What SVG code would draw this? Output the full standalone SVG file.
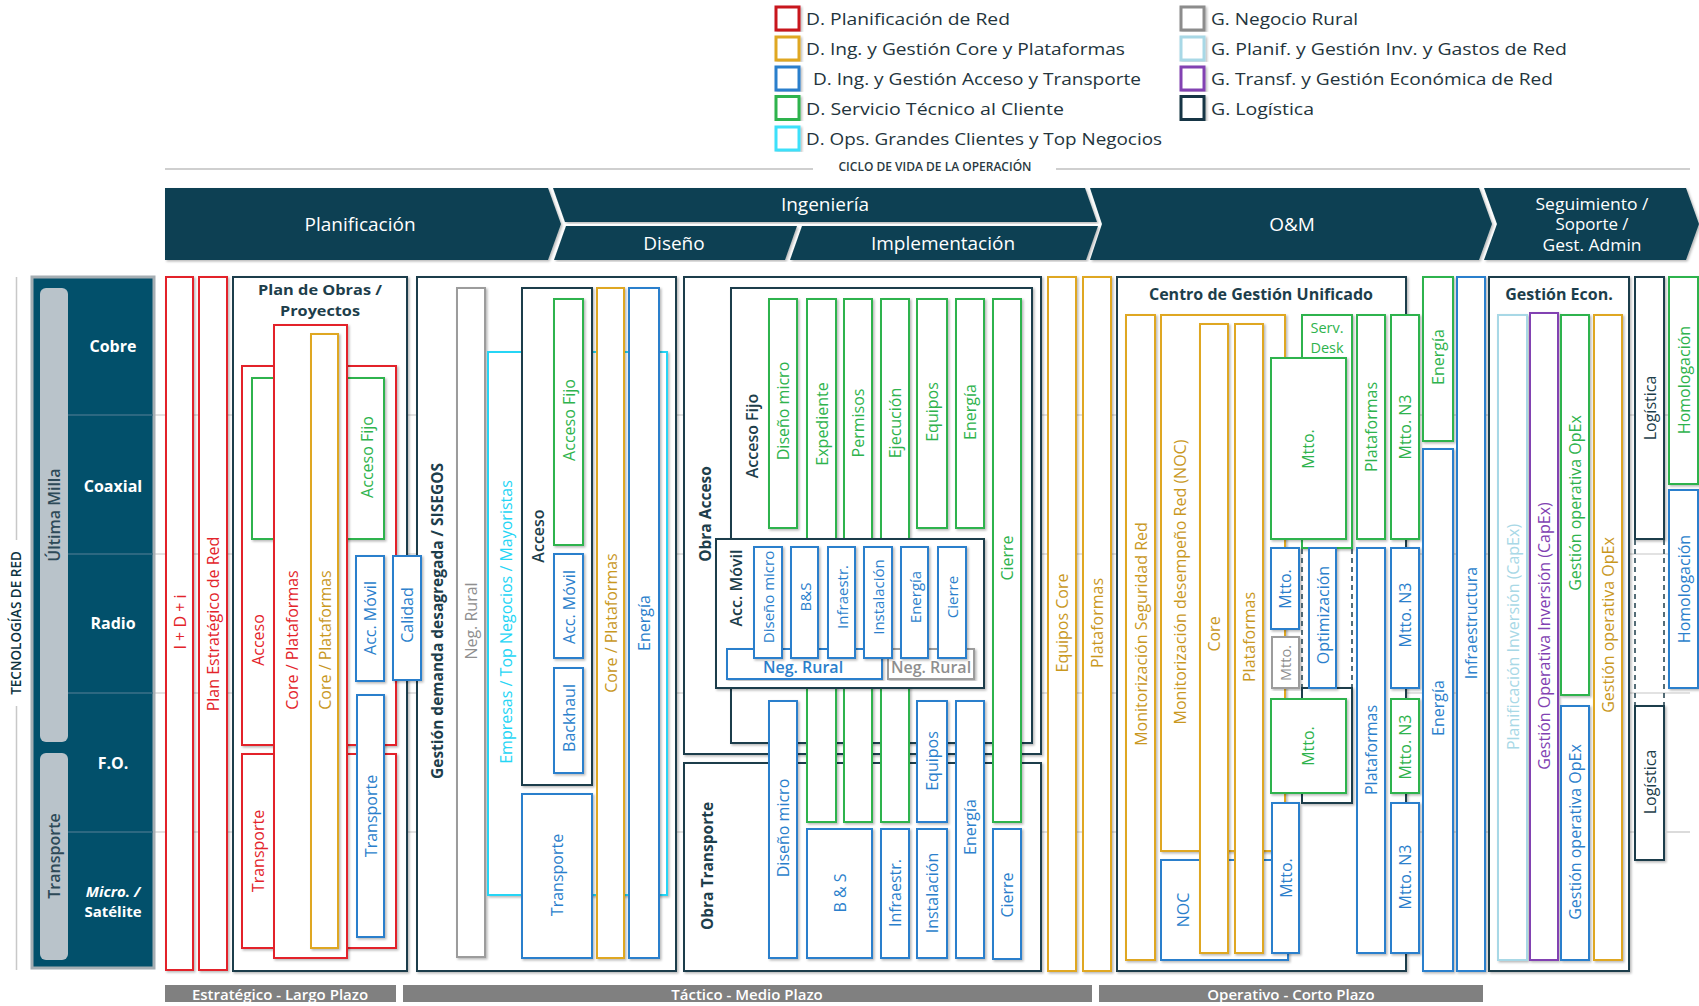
<svg xmlns="http://www.w3.org/2000/svg" width="1699" height="1006" viewBox="0 0 1699 1006">
<defs>
<filter id="sh" x="-20%" y="-5%" width="140%" height="110%"><feDropShadow dx="1.5" dy="1.5" stdDeviation="1" flood-color="#000" flood-opacity="0.28"/></filter>
<style>
text{font-family:'Open Sans','DejaVu Sans',sans-serif}
.b{fill:#fff;stroke-width:2;filter:url(#sh)}
.r{stroke:#e3242b}.o{stroke:#dfa722}.u{stroke:#2b7fcc}.n{stroke:#2eb34d}.c{stroke:#25d5f5}.y{stroke:#9c9c9c}.k{stroke:#1d3e4b}.l{stroke:#a8d8e6}.p{stroke:#8242b2}
.t{font-size:16px;text-anchor:middle;dominant-baseline:central}
.tr{fill:#e3242b}.to{fill:#c9981f}.tu{fill:#2b7fcc}.tn{fill:#2eb34d}.tc{fill:#25d5f5}.ty{fill:#8f8f8f}.tk{fill:#1d3e4b}.tl{fill:#a8d8e6}.tp{fill:#8242b2}
.bd{font-weight:700;font-size:15.5px}
.ti{font-weight:700;font-size:16px}
.sb{font-weight:600}
.s15{font-size:15px}.s14{font-size:14.5px}
.hd{fill:#0c4152;filter:url(#sh)}
.ht{fill:#fff;font-size:19px;text-anchor:middle;dominant-baseline:central}
.hs{fill:#fff;font-size:15.5px;text-anchor:middle;dominant-baseline:central}
.lg{font-size:17px;fill:#23343c;dominant-baseline:central}
.sq{fill:#fff;stroke-width:3;filter:url(#sh)}
.grid{stroke:#d8d8d8;stroke-width:1.5}
.dash{stroke:#1d3e4b;stroke-width:1.5;stroke-dasharray:5 4;fill:none}
.pl{fill:#fff;font-size:16px;font-weight:700;text-anchor:middle;dominant-baseline:central}
.bar{fill:#808080}
.bt{fill:#fff;font-size:15px;font-weight:600;text-anchor:middle;dominant-baseline:central}
</style>
</defs>
<rect width="1699" height="1006" fill="#fff"/>

<g id="legend">
<rect class="sq" x="776" y="7" width="23" height="23" stroke="#c8141e"/>
<rect class="sq" x="776" y="37" width="23" height="23" stroke="#dfa722"/>
<rect class="sq" x="776" y="67" width="23" height="23" stroke="#2b7fcc"/>
<rect class="sq" x="776" y="96.5" width="23" height="23" stroke="#2eb34d"/>
<rect class="sq" x="776" y="127" width="23" height="23" stroke="#3ce0fa"/>
<rect class="sq" x="1181" y="7" width="23" height="23" stroke="#8c8c8c"/>
<rect class="sq" x="1181" y="37" width="23" height="23" stroke="#a8d8e6"/>
<rect class="sq" x="1181" y="67" width="23" height="23" stroke="#8242b2"/>
<rect class="sq" x="1181" y="96.5" width="23" height="23" stroke="#163644"/>
<text class="lg" x="806" y="18.5" textLength="204" lengthAdjust="spacingAndGlyphs">D. Planificación de Red</text>
<text class="lg" x="806" y="48.5" textLength="319" lengthAdjust="spacingAndGlyphs">D. Ing. y Gestión Core y Plataformas</text>
<text class="lg" x="813" y="78.5" textLength="328" lengthAdjust="spacingAndGlyphs">D. Ing. y Gestión Acceso y Transporte</text>
<text class="lg" x="806" y="108" textLength="258" lengthAdjust="spacingAndGlyphs">D. Servicio Técnico al Cliente</text>
<text class="lg" x="806" y="138.5" textLength="356" lengthAdjust="spacingAndGlyphs">D. Ops. Grandes Clientes y Top Negocios</text>
<text class="lg" x="1211" y="18.5" textLength="147" lengthAdjust="spacingAndGlyphs">G. Negocio Rural</text>
<text class="lg" x="1211" y="48.5" textLength="356" lengthAdjust="spacingAndGlyphs">G. Planif. y Gestión Inv. y Gastos de Red</text>
<text class="lg" x="1211" y="78.5" textLength="342" lengthAdjust="spacingAndGlyphs">G. Transf. y Gestión Económica de Red</text>
<text class="lg" x="1211" y="108" textLength="103" lengthAdjust="spacingAndGlyphs">G. Logística</text>
</g>

<g id="ciclo">
<line x1="165" y1="169" x2="813" y2="169" stroke="#cfcfcf" stroke-width="2"/>
<line x1="1056" y1="169" x2="1690" y2="169" stroke="#cfcfcf" stroke-width="2"/>
<text x="935" y="166" font-size="12" font-weight="600" fill="#2a3a42" text-anchor="middle" dominant-baseline="central">CICLO DE VIDA DE LA OPERACIÓN</text>
</g>

<g id="header">
<g id="h-planificacion"><path class="hd" d="M165,188H548L561,224L548,260H165Z"/><text class="ht" x="360" y="224">Planificación</text></g>
<g id="h-ingenieria"><path class="hd" d="M553,188H1085L1097,222H565Z"/><text class="ht" x="825" y="204">Ingeniería</text></g>
<g id="h-diseno"><path class="hd" d="M566,226H797L785,260H554Z"/><text class="ht" x="674" y="243">Diseño</text></g>
<g id="h-implementacion"><path class="hd" d="M802,226H1098L1086,260H790Z"/><text class="ht" x="943" y="243">Implementación</text></g>
<g id="h-om"><path class="hd" d="M1090,188H1479L1492,224L1479,260H1090L1102,224Z"/><text class="ht" x="1292" y="224">O&amp;M</text></g>
<g id="h-seguimiento"><path class="hd" d="M1484,188H1686L1699,224L1686,260H1484L1497,224Z"/>
<text class="hs" x="1592" y="203.5" textLength="113" lengthAdjust="spacingAndGlyphs">Seguimiento /</text><text class="hs" x="1592" y="224" textLength="73" lengthAdjust="spacingAndGlyphs">Soporte /</text><text class="hs" x="1592" y="244.5" textLength="99" lengthAdjust="spacingAndGlyphs">Gest.  Admin</text></g>
</g>

<g id="grid-lines">
<line class="grid" x1="154" y1="415" x2="1690" y2="415"/>
<line class="grid" x1="154" y1="554" x2="1690" y2="554"/>
<line class="grid" x1="154" y1="693" x2="1690" y2="693"/>
<line class="grid" x1="154" y1="832" x2="1690" y2="832"/>
<line x1="16.5" y1="277" x2="16.5" y2="540" stroke="#c8c8c8" stroke-width="1.5"/>
<line x1="16.5" y1="706" x2="16.5" y2="970" stroke="#c8c8c8" stroke-width="1.5"/>
</g>

<g id="tech-panel">
<text class="t" style="font-size:13.5px;font-weight:600" fill="#0d3340" transform="translate(16,623) rotate(-90)">TECNOLOGÍAS DE RED</text>
<rect x="32" y="277" width="122" height="691" fill="#02506b" stroke="#a5aeb3" stroke-width="3"/>
<g stroke="#3d7188" stroke-width="1.5">
<line x1="68" y1="415" x2="153" y2="415"/><line x1="68" y1="554" x2="153" y2="554"/><line x1="68" y1="693" x2="153" y2="693"/><line x1="68" y1="832" x2="153" y2="832"/>
</g>
<rect x="40" y="288" width="28" height="454" rx="6" fill="#b9c3ca"/>
<rect x="40" y="753" width="28" height="207" rx="6" fill="#b9c3ca"/>
<text class="t sb" fill="#2e4a58" transform="translate(54,515) rotate(-90)">Última Milla</text>
<text class="t sb" fill="#2e4a58" transform="translate(54,856) rotate(-90)">Transporte</text>
<text class="pl" x="113" y="346">Cobre</text>
<text class="pl" x="113" y="486">Coaxial</text>
<text class="pl" x="113" y="623">Radio</text>
<text class="pl" x="113" y="763">F.O.</text>
<text class="pl" x="113" y="891" style="font-size:15px;font-style:italic">Micro. /</text>
<text class="pl" x="113" y="911" style="font-size:15px">Satélite</text>
</g>

<g id="idi"><rect class="b r" x="166" y="277" width="27" height="693"/><text class="t tr" transform="translate(180,622) rotate(-90)">I + D + i</text></g>
<g id="plan-estrategico"><rect class="b r" x="199" y="277" width="28" height="693"/><text class="t tr" transform="translate(213,624) rotate(-90)">Plan Estratégico de Red</text></g>

<g id="plan-obras">
<rect class="b k" x="233" y="277" width="174" height="694"/>
<text class="t tk" style="font-size:15px;font-weight:700" x="320" y="289" textLength="124" lengthAdjust="spacingAndGlyphs">Plan de Obras /</text>
<text class="t tk" style="font-size:15px;font-weight:700" x="320" y="309.5" textLength="80" lengthAdjust="spacingAndGlyphs">Proyectos</text>
<g id="po-acceso"><rect class="b r" x="242" y="366" width="154" height="379"/><text class="t tr" transform="translate(258,640) rotate(-90)">Acceso</text></g>
<g id="po-transporte"><rect class="b r" x="242" y="754" width="154" height="194"/><text class="t tr" transform="translate(258,851) rotate(-90)">Transporte</text></g>
<g id="po-acceso-fijo"><rect class="b n" x="252" y="378" width="132" height="161"/><text class="t tn" transform="translate(367,457) rotate(-90)">Acceso Fijo</text></g>
<g id="po-core-red"><rect class="b r" x="274" y="325" width="73" height="633"/><text class="t tr" transform="translate(292,640) rotate(-90)">Core / Plataformas</text></g>
<g id="po-core-gold"><rect class="b o" x="311" y="334" width="27" height="614"/><text class="t to" transform="translate(324.5,640) rotate(-90)">Core / Plataformas</text></g>
<g id="po-acc-movil"><rect class="b u" x="356" y="556" width="28" height="125"/><text class="t tu" transform="translate(370,618) rotate(-90)">Acc. Móvil</text></g>
<g id="po-transporte-blue"><rect class="b u" x="357" y="695" width="27" height="242"/><text class="t tu" transform="translate(370.5,816) rotate(-90)">Transporte</text></g>
</g>

<g id="sisegos">
<rect class="b k" x="417" y="277" width="259" height="694"/>
<text class="t tk bd" transform="translate(437,621) rotate(-90)">Gestión demanda desagregada / SISEGOS</text>
<g id="sg-neg-rural"><rect class="b y" x="457" y="288" width="28" height="669"/><text class="t ty" transform="translate(471,621) rotate(-90)">Neg. Rural</text></g>
<g id="sg-empresas"><rect class="b c" x="488" y="352" width="179" height="543"/><text class="t tc" transform="translate(506,622) rotate(-90)">Empresas / Top Negocios / Mayoristas</text></g>
<g id="sg-acceso"><rect class="b k" x="522" y="288" width="70" height="497"/><text class="t tk sb" transform="translate(538,536) rotate(-90)">Acceso</text></g>
<g id="sg-acceso-fijo"><rect class="b n" x="554" y="299" width="29" height="246"/><text class="t tn" transform="translate(569,420) rotate(-90)">Acceso Fijo</text></g>
<g id="sg-acc-movil"><rect class="b u" x="554" y="554" width="29" height="104"/><text class="t tu" transform="translate(569,607) rotate(-90)">Acc. Móvil</text></g>
<g id="sg-backhaul"><rect class="b u" x="554" y="668" width="29" height="105"/><text class="t tu" transform="translate(569,718) rotate(-90)">Backhaul</text></g>
<g id="sg-transporte"><rect class="b u" x="522" y="794" width="70" height="164"/><text class="t tu" transform="translate(557,875) rotate(-90)">Transporte</text></g>
<g id="sg-core"><rect class="b o" x="597" y="288" width="27" height="670"/><text class="t to" transform="translate(611,623) rotate(-90)">Core / Plataformas</text></g>
<g id="sg-energia"><rect class="b u" x="629" y="288" width="30" height="670"/><text class="t tu" transform="translate(644,623) rotate(-90)">Energía</text></g>
</g>

<g id="calidad"><rect class="b u" x="393" y="556" width="28" height="124"/><text class="t tu" transform="translate(407,615) rotate(-90)">Calidad</text></g>

<g id="obra-acceso">
<rect class="b k" x="684" y="277" width="357" height="477"/>
<text class="t tk bd" transform="translate(705,514) rotate(-90)">Obra Acceso</text>
</g>
<g id="obra-transporte">
<rect class="b k" x="684" y="763" width="357" height="208"/>
<text class="t tk bd" transform="translate(707,866) rotate(-90)">Obra Transporte</text>
</g>
<g id="oa-acceso-fijo">
<rect class="b k" x="731" y="288" width="301" height="455"/>
<text class="t tk sb" transform="translate(752,436) rotate(-90)">Acceso Fijo</text>
</g>
<g id="af-diseno"><rect class="b n" x="769" y="299" width="28" height="229"/><text class="t tn" transform="translate(783,411) rotate(-90)">Diseño micro</text></g>
<g id="af-expediente"><rect class="b n" x="807" y="299" width="29" height="523"/><text class="t tn" transform="translate(821.5,424) rotate(-90)">Expediente</text></g>
<g id="af-permisos"><rect class="b n" x="844" y="299" width="28" height="523"/><text class="t tn" transform="translate(858,423) rotate(-90)">Permisos</text></g>
<g id="af-ejecucion"><rect class="b n" x="881" y="299" width="28" height="523"/><text class="t tn" transform="translate(895,423) rotate(-90)">Ejecución</text></g>
<g id="af-equipos"><rect class="b n" x="917" y="299" width="30" height="229"/><text class="t tn" transform="translate(932,412) rotate(-90)">Equipos</text></g>
<g id="af-energia"><rect class="b n" x="956" y="299" width="28" height="229"/><text class="t tn" transform="translate(970,412) rotate(-90)">Energía</text></g>
<g id="af-cierre"><rect class="b n" x="993" y="299" width="28" height="523"/><text class="t tn" transform="translate(1007,558) rotate(-90)">Cierre</text></g>

<g id="ot-diseno"><rect class="b u" x="769" y="701" width="28" height="257"/><text class="t tu" transform="translate(783,828) rotate(-90)">Diseño micro</text></g>
<g id="ot-equipos"><rect class="b u" x="917" y="701" width="30" height="121"/><text class="t tu" transform="translate(932,761) rotate(-90)">Equipos</text></g>
<g id="ot-energia"><rect class="b u" x="956" y="701" width="28" height="257"/><text class="t tu" transform="translate(970,827) rotate(-90)">Energía</text></g>
<g id="ot-bs"><rect class="b u" x="807" y="829" width="65" height="129"/><text class="t tu" transform="translate(839.5,893) rotate(-90)">B &amp; S</text></g>
<g id="ot-infraestr"><rect class="b u" x="881" y="829" width="28" height="129"/><text class="t tu" transform="translate(895,893) rotate(-90)">Infraestr.</text></g>
<g id="ot-instalacion"><rect class="b u" x="917" y="829" width="30" height="129"/><text class="t tu" transform="translate(932,893) rotate(-90)">Instalación</text></g>
<g id="ot-cierre"><rect class="b u" x="993" y="829" width="28" height="130"/><text class="t tu" transform="translate(1007,895) rotate(-90)">Cierre</text></g>

<g id="oa-acc-movil">
<rect class="b k" x="716" y="539" width="268" height="149"/>
<text class="t tk sb" transform="translate(736,588) rotate(-90)">Acc. Móvil</text>
<g id="am-neg-rural-blue"><rect class="b u" x="727" y="649" width="155" height="30"/><text class="t tu sb" x="803" y="667">Neg. Rural</text></g>
<g id="am-neg-rural-gray"><rect class="b y" x="888" y="649" width="86" height="30"/><text class="t ty sb" x="931" y="667">Neg. Rural</text></g>
<g id="am-diseno"><rect class="b u" x="754" y="547" width="28" height="111"/><text class="t tu s15" transform="translate(768,597) rotate(-90)">Diseño micro</text></g>
<g id="am-bs"><rect class="b u" x="791" y="547" width="27" height="111"/><text class="t tu s15" transform="translate(804.5,597) rotate(-90)">B&amp;S</text></g>
<g id="am-infraestr"><rect class="b u" x="828" y="547" width="27" height="111"/><text class="t tu s15" transform="translate(841.5,597) rotate(-90)">Infraestr.</text></g>
<g id="am-instalacion"><rect class="b u" x="864" y="547" width="28" height="111"/><text class="t tu s15" transform="translate(878,597) rotate(-90)">Instalación</text></g>
<g id="am-energia"><rect class="b u" x="901" y="547" width="27" height="111"/><text class="t tu s15" transform="translate(914.5,597) rotate(-90)">Energía</text></g>
<g id="am-cierre"><rect class="b u" x="938" y="547" width="28" height="111"/><text class="t tu s15" transform="translate(952,597) rotate(-90)">Cierre</text></g>
</g>

<g id="equipos-core"><rect class="b o" x="1048" y="277" width="28" height="694"/><text class="t to" transform="translate(1062,623) rotate(-90)">Equipos Core</text></g>
<g id="plataformas-gold"><rect class="b o" x="1083" y="277" width="28" height="694"/><text class="t to" transform="translate(1097,623) rotate(-90)">Plataformas</text></g>

<g id="cgu">
<rect class="b k" x="1117" y="277" width="289" height="694"/>
<text class="t tk ti" x="1261" y="294">Centro de Gestión Unificado</text>
<g id="cgu-seg"><rect class="b o" x="1126" y="315" width="29" height="645"/><text class="t to" transform="translate(1140.5,634) rotate(-90)">Monitorización Seguridad Red</text></g>
<g id="cgu-noc-gold"><rect class="b o" x="1161" y="315" width="124" height="536"/><text class="t to" transform="translate(1180,582) rotate(-90)">Monitorización desempeño Red (NOC)</text></g>
<g id="cgu-noc"><rect class="b u" x="1161" y="860" width="127" height="100"/><text class="t tu" transform="translate(1183,910) rotate(-90)">NOC</text></g>
<g id="cgu-core"><rect class="b o" x="1200" y="324" width="28" height="629"/><text class="t to" transform="translate(1214,634) rotate(-90)">Core</text></g>
<g id="cgu-plat"><rect class="b o" x="1235" y="324" width="28" height="629"/><text class="t to" transform="translate(1249,637) rotate(-90)">Plataformas</text></g>
<g id="cgu-serv-desk"><rect class="b n" x="1302" y="315" width="50" height="233"/><text class="t tn s14" x="1327" y="327.5">Serv.</text><text class="t tn s14" x="1327" y="347">Desk</text></g>
<g id="cgu-mtto-g1"><rect class="b n" x="1271" y="358" width="75" height="181"/><text class="t tn" transform="translate(1308,449) rotate(-90)">Mtto.</text></g>
<g id="cgu-opt-frame"><rect class="b k" x="1302" y="688" width="50" height="115"/></g>
<g id="cgu-mtto-b1"><rect class="b u" x="1271" y="548" width="28" height="81"/><text class="t tu" transform="translate(1285,589) rotate(-90)">Mtto.</text></g>
<g id="cgu-mtto-gray"><rect class="b y" x="1272" y="637" width="27" height="51"/><text class="t ty s14" transform="translate(1285.5,663) rotate(-90)">Mtto.</text></g>
<g id="cgu-opt"><rect class="b u" x="1309" y="548" width="27" height="140"/><text class="t tu" transform="translate(1322.5,615) rotate(-90)">Optimización</text></g>
<g id="cgu-mtto-g2"><rect class="b n" x="1271" y="699" width="75" height="94"/><text class="t tn" transform="translate(1308,746) rotate(-90)">Mtto.</text></g>
<g id="cgu-mtto-b2"><rect class="b u" x="1272" y="803" width="27" height="150"/><text class="t tu" transform="translate(1285.5,878) rotate(-90)">Mtto.</text></g>
<g id="cgu-plat-g"><rect class="b n" x="1357" y="315" width="28" height="224"/><text class="t tn" transform="translate(1371,427) rotate(-90)">Plataformas</text></g>
<g id="cgu-n3-g1"><rect class="b n" x="1391" y="315" width="28" height="224"/><text class="t tn" transform="translate(1405,427) rotate(-90)">Mtto. N3</text></g>
<g id="cgu-plat-b"><rect class="b u" x="1357" y="548" width="28" height="405"/><text class="t tu" transform="translate(1371,750) rotate(-90)">Plataformas</text></g>
<g id="cgu-n3-b1"><rect class="b u" x="1391" y="548" width="28" height="140"/><text class="t tu" transform="translate(1405,615) rotate(-90)">Mtto. N3</text></g>
<g id="cgu-n3-g2"><rect class="b n" x="1391" y="699" width="28" height="94"/><text class="t tn" transform="translate(1405,747) rotate(-90)">Mtto. N3</text></g>
<g id="cgu-n3-b2"><rect class="b u" x="1391" y="803" width="28" height="150"/><text class="t tu" transform="translate(1405,877) rotate(-90)">Mtto. N3</text></g>
</g>

<g id="energia-green"><rect class="b n" x="1423" y="277" width="30" height="164"/><text class="t tn" transform="translate(1438,357) rotate(-90)">Energía</text></g>
<g id="energia-blue"><rect class="b u" x="1423" y="449" width="30" height="522"/><text class="t tu" transform="translate(1438,708) rotate(-90)">Energía</text></g>
<g id="infraestructura"><rect class="b u" x="1457" y="277" width="28" height="694"/><text class="t tu" transform="translate(1471,623) rotate(-90)">Infraestructura</text></g>

<g id="gestion-econ">
<rect class="b k" x="1489" y="277" width="140" height="694"/>
<text class="t tk ti" x="1559" y="294">Gestión Econ.</text>
<g id="ge-plan-inv"><rect class="b l" x="1498" y="315" width="29" height="645"/><text class="t tl" transform="translate(1512.5,637) rotate(-90)">Planificación Inversión (CapEx)</text></g>
<g id="ge-gest-inv"><rect class="b p" x="1530" y="313" width="28" height="647"/><text class="t tp" transform="translate(1544,636) rotate(-90)">Gestión Operativa Inversión (CapEx)</text></g>
<g id="ge-opex-g"><rect class="b n" x="1561" y="315" width="28" height="380"/><text class="t tn" transform="translate(1575,503) rotate(-90)">Gestión operativa OpEx</text></g>
<g id="ge-opex-b"><rect class="b u" x="1561" y="706" width="28" height="254"/><text class="t tu" transform="translate(1575,832) rotate(-90)">Gestión operativa OpEx</text></g>
<g id="ge-opex-o"><rect class="b o" x="1594" y="315" width="28" height="645"/><text class="t to" transform="translate(1608,625) rotate(-90)">Gestión operativa OpEx</text></g>
</g>

<g id="logistica-1"><rect class="b k" x="1635" y="277" width="29" height="262"/><text class="t tk" transform="translate(1649.5,408) rotate(-90)">Logística</text></g>
<g id="logistica-2"><rect class="b k" x="1635" y="706" width="29" height="154"/><text class="t tk" transform="translate(1649.5,782) rotate(-90)">Logística</text></g>
<g id="homologacion-g"><rect class="b n" x="1669" y="277" width="29" height="207"/><text class="t tn" transform="translate(1683.5,380) rotate(-90)">Homologación</text></g>
<g id="homologacion-b"><rect class="b u" x="1669" y="490" width="29" height="198"/><text class="t tu" transform="translate(1683.5,589) rotate(-90)">Homologación</text></g>

<g id="connectors">
<line class="dash" x1="1302" y1="549" x2="1302" y2="688"/>
<line class="dash" x1="1352" y1="549" x2="1352" y2="688"/>
<line class="dash" x1="1635" y1="540" x2="1635" y2="706"/>
<line class="dash" x1="1664" y1="540" x2="1664" y2="706"/>
<line class="grid" x1="1665" y1="832" x2="1690" y2="832"/>
</g>

<g id="horizons">
<g id="h-estrategico"><rect class="bar" x="165" y="985" width="231" height="17"/><text class="bt" x="280" y="993.5">Estratégico - Largo Plazo</text></g>
<g id="h-tactico"><rect class="bar" x="403" y="985" width="689" height="17"/><text class="bt" x="747" y="993.5">Táctico - Medio Plazo</text></g>
<g id="h-operativo"><rect class="bar" x="1099" y="985" width="384" height="17"/><text class="bt" x="1291" y="993.5">Operativo - Corto Plazo</text></g>
</g>
</svg>
